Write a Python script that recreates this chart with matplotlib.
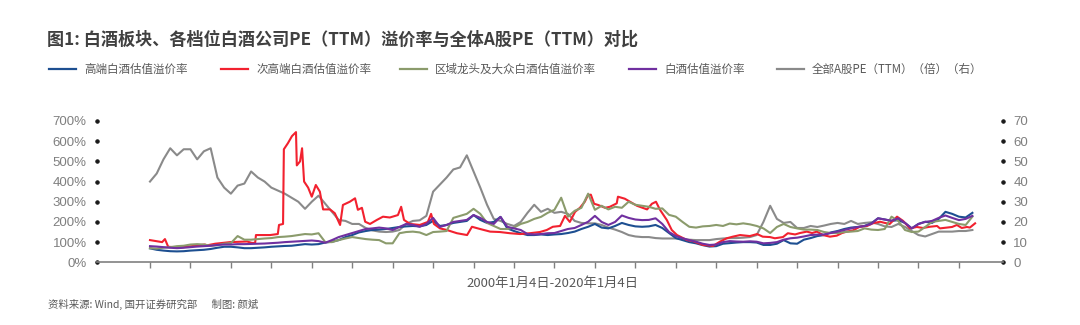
import numpy as np
import matplotlib.pyplot as plt
from matplotlib.lines import Line2D

plt.rcParams['font.family'] = ['Noto Sans CJK SC', 'DejaVu Sans']

# years since 2000-01-04, sampled every two months
t_grid = np.arange(123) / 6

# 全部A股PE(TTM)（倍，右轴）
gray_pe = [40.0, 44.0, 51.0, 56.5, 53.0, 56.0, 56.0, 51.0, 55.0, 56.5,
           42.0, 37.0, 34.0, 38.0, 39.0, 45.0, 42.0, 40.0, 37.0, 35.5,
           34.0, 32.0, 30.0, 26.5, 30.0, 33.0, 29.0, 25.0, 21.0, 20.5,
           19.0, 19.0, 17.0, 15.8, 15.2, 15.0, 15.2, 16.0, 19.0, 20.5,
           20.8, 23.0, 35.0, 38.5, 42.0, 46.0, 47.0, 53.0, 45.0, 37.0,
           28.5, 21.5, 20.5, 19.0, 18.0, 20.0, 24.5, 28.5, 25.0, 26.5,
           24.5, 25.0, 24.0, 20.5, 19.5, 19.3, 19.3, 18.5, 17.2, 16.2,
           15.0, 13.5, 12.8, 12.5, 12.5, 12.0, 11.8, 11.8, 11.8, 11.5,
           11.2, 11.0, 11.0, 11.0, 11.5, 11.8, 12.0, 12.0, 12.2, 12.5,
           13.5, 20.0, 28.0, 21.5, 19.5, 20.0, 17.0, 17.0, 18.0, 17.5,
           18.2, 19.0, 19.5, 19.0, 20.5, 19.0, 19.5, 19.8, 19.0, 17.8,
           17.5, 19.0, 17.5, 15.5, 13.5, 12.8, 14.0, 15.2, 15.2, 15.2,
           15.5, 15.5, 16.0]

# 高端白酒估值溢价率 (%)
high_end = [69, 62, 58, 55, 54, 55, 58, 60, 62, 66,
            72, 77, 77, 74, 70, 70, 72, 74, 77, 79,
            81, 82, 86, 90, 88, 90, 98, 102, 110, 125,
            135, 148, 155, 160, 162, 165, 170, 175, 178, 180,
            178, 185, 205, 180, 185, 195, 200, 205, 234, 210,
            195, 200, 225, 168, 155, 144, 135, 135, 138, 135,
            138, 140, 145, 152, 165, 176, 190, 172, 168, 180,
            195, 185, 178, 176, 178, 185, 170, 145, 120, 110,
            100, 94, 85, 78, 80, 92, 95, 98, 100, 100,
            98, 86, 86, 92, 110, 94, 92, 112, 120, 130,
            135, 148, 155, 165, 172, 175, 180, 193, 218, 212,
            205, 209, 195, 168, 190, 201, 195, 215, 250, 240,
            226, 222, 245]

# 白酒估值溢价率 (%)
baijiu = [80, 78, 75, 72, 70, 72, 75, 78, 80, 82,
          86, 88, 88, 90, 90, 91, 92, 93, 95, 97,
          100, 102, 104, 106, 108, 105, 97, 110, 125, 135,
          145, 155, 165, 168, 172, 168, 160, 175, 190, 185,
          176, 190, 220, 175, 185, 200, 205, 210, 234, 220,
          200, 190, 225, 176, 168, 160, 140, 138, 140, 144,
          145, 155, 165, 170, 185, 201, 230, 200, 185, 200,
          232, 220, 212, 209, 210, 218, 190, 150, 130, 119,
          110, 102, 92, 86, 88, 100, 105, 103, 102, 104,
          102, 94, 96, 100, 112, 119, 122, 128, 135, 137,
          138, 145, 152, 160, 168, 175, 180, 190, 218, 212,
          206, 218, 195, 168, 190, 200, 205, 220, 232, 220,
          209, 215, 230]

# 区域龙头及大众白酒估值溢价率 (%)
regional = [70, 68, 72, 75, 80, 82, 88, 90, 88, 82,
            85, 92, 95, 130, 112, 112, 115, 118, 120, 125,
            127, 130, 135, 140, 138, 144, 100, 100, 110, 118,
            125, 120, 115, 112, 110, 94, 94, 144, 150, 152,
            148, 135, 150, 152, 155, 220, 230, 240, 265, 240,
            195, 180, 165, 165, 172, 190, 200, 215, 225, 245,
            260, 320, 226, 255, 270, 340, 260, 280, 262, 275,
            270, 300, 285, 280, 275, 265, 267, 235, 226, 200,
            176, 172, 178, 180, 185, 180, 192, 188, 193, 188,
            180, 168, 145, 175, 190, 175, 168, 162, 162, 160,
            150, 145, 145, 150, 152, 155, 168, 162, 160, 165,
            226, 205, 160, 150, 152, 175, 200, 205, 210, 200,
            190, 185, 226]

# 次高端白酒估值溢价率 (%), irregular sample dates (years since 2000-01-04)
sub_high_t = [0.0, 0.15, 0.30, 0.37, 0.45, 0.74, 1.11, 1.36, 1.41, 1.61,
              1.98, 2.40, 2.52, 2.60, 2.62, 2.97, 3.16, 3.19, 3.29, 3.31,
              3.41, 3.51, 3.61, 3.63, 3.71, 3.76, 3.81, 3.91, 4.00, 4.10,
              4.20, 4.28, 4.45, 4.57, 4.70, 4.77, 4.94, 5.07, 5.14, 5.24,
              5.32, 5.44, 5.61, 5.76, 5.93, 6.13, 6.21, 6.28, 6.43, 6.67,
              6.87, 6.95, 7.02, 7.17, 7.34, 7.59, 7.84, 7.96, 8.16, 8.41,
              8.65, 8.90, 9.15, 9.39, 9.64, 9.81, 9.96, 10.14, 10.26, 10.38,
              10.51, 10.63, 10.75, 10.83, 10.90, 10.98, 11.08, 11.25, 11.37, 11.54,
              11.57, 11.74, 11.87, 12.04, 12.11, 12.29, 12.41, 12.51, 12.61, 12.78,
              12.90, 13.03, 13.28, 13.42, 13.67, 13.92, 14.09, 14.26, 14.41, 14.59,
              14.83, 15.01, 15.15, 15.33, 15.45, 15.65, 15.77, 15.95, 16.07, 16.24,
              16.37, 16.49, 16.64, 16.81, 16.98, 17.11, 17.23, 17.38, 17.55, 17.73,
              17.87, 18.05, 18.17, 18.29, 18.47, 18.62, 18.79, 18.96, 19.11, 19.28,
              19.46, 19.53, 19.70, 19.83, 19.95, 20.07, 20.20, 20.27, 20.40]
sub_high = [110, 105, 100, 115, 77, 73, 82, 88, 84, 92,
            100, 103, 96, 96, 135, 135, 140, 185, 190, 560,
            590, 625, 645, 480, 500, 565, 400, 370, 325, 383,
            350, 262, 262, 243, 185, 284, 300, 317, 260, 270,
            201, 190, 210, 226, 222, 234, 275, 210, 190, 185,
            200, 240, 190, 168, 160, 144, 135, 176, 165, 152,
            150, 144, 140, 144, 150, 160, 176, 180, 230, 200,
            250, 270, 300, 333, 335, 290, 284, 270, 275, 292,
            325, 315, 300, 280, 275, 262, 290, 300, 260, 209,
            160, 135, 110, 105, 86, 81, 102, 119, 127, 135,
            130, 140, 127, 125, 119, 125, 144, 138, 145, 152,
            145, 152, 135, 127, 132, 145, 152, 158, 176, 180,
            193, 201, 195, 190, 226, 205, 168, 175, 170, 176,
            180, 168, 172, 175, 185, 170, 175, 172, 193]

year_ticks = list(range(21))
left_ticks = list(range(0, 701, 100))
right_ticks = list(range(0, 71, 10))

title = '图1: 白酒板块、各档位白酒公司PE（TTM）溢价率与全体A股PE（TTM）对比'
names = ['高端白酒估值溢价率', '次高端白酒估值溢价率', '区域龙头及大众白酒估值溢价率',
         '白酒估值溢价率', '全部A股PE（TTM）（倍）（右）']
colors = ['#1D4F91', '#F2212F', '#8B9B6C', '#7030A0', '#8A8A8A']

W, H = 1080, 325
fig = plt.figure(figsize=(W / 100, H / 100), dpi=100)
ax = fig.add_axes([97 / W, 62.7 / H, 906 / W, 141.3 / H])
ax2 = ax.twinx()
ax.set_zorder(ax2.get_zorder() + 1)
ax.patch.set_visible(False)

ax2.plot(t_grid, gray_pe, color=colors[4], lw=1.5)
ax.plot(t_grid, high_end, color=colors[0], lw=1.5)
ax.plot(sub_high_t, sub_high, color=colors[1], lw=1.5)
ax.plot(t_grid, regional, color=colors[2], lw=1.5)
ax.plot(t_grid, baijiu, color=colors[3], lw=1.5)

ax.set_xlim(-1.31, 21.09)
ax.set_ylim(0, 700)
ax2.set_ylim(0, 70)
ax.set_xticks(year_ticks)
ax.set_yticks(left_ticks)
ax.set_yticklabels([f'{v}%' for v in left_ticks])
ax2.set_yticks(right_ticks)
ax2.set_yticklabels([str(v) for v in right_ticks])

for a in (ax, ax2):
    for s in ('top', 'left', 'right'):
        a.spines[s].set_visible(False)
ax2.spines['bottom'].set_visible(False)
ax.spines['bottom'].set_color('#808080')
ax.spines['bottom'].set_linewidth(1.2)

ax.tick_params(axis='x', direction='out', length=4, width=1, color='#808080', labelbottom=False)
ax.tick_params(axis='y', length=2.5, pad=5, labelsize=9.5, labelcolor='#7F7F7F')
ax2.tick_params(axis='y', length=2.5, pad=5, labelsize=9.5, labelcolor='#7F7F7F')
for lab in ax.get_yticklabels() + ax2.get_yticklabels():
    lab.set_family(['Liberation Sans', 'DejaVu Sans'])

for tk in ax.yaxis.get_major_ticks():
    tk.tick1line.set_marker('o')
    tk.tick1line.set_markersize(2.4)
    tk.tick1line.set_markerfacecolor('#1a1a1a')
    tk.tick1line.set_markeredgecolor('#1a1a1a')
for tk in ax2.yaxis.get_major_ticks():
    tk.tick2line.set_marker('o')
    tk.tick2line.set_markersize(2.4)
    tk.tick2line.set_markerfacecolor('#1a1a1a')
    tk.tick2line.set_markeredgecolor('#1a1a1a')

fig.text(47 / W, 1 - 40 / H, title, fontsize=12.3, fontweight='bold', color='#404040', va='center')

legend_x = [49, 221, 400, 629, 777]
ly = 1 - 69 / H
for x0, c, name in zip(legend_x, colors, names):
    fig.add_artist(Line2D([x0 / W, (x0 + 27) / W], [ly, ly], transform=fig.transFigure, color=c, lw=1.6))
    fig.text((x0 + 35) / W, ly, name, fontsize=8.3, color='#595959', va='center')

fig.text(552 / W, 1 - 283 / H, '2000年1月4日-2020年1月4日', fontsize=9.5, color='#595959',
         ha='center', va='center')
fig.text(48 / W, 1 - 304 / H, '资料来源: Wind, 国开证券研究部      制图: 颜斌', fontsize=7.5,
         color='#595959', style='italic', va='center')

fig.savefig('out.png', dpi=100)
